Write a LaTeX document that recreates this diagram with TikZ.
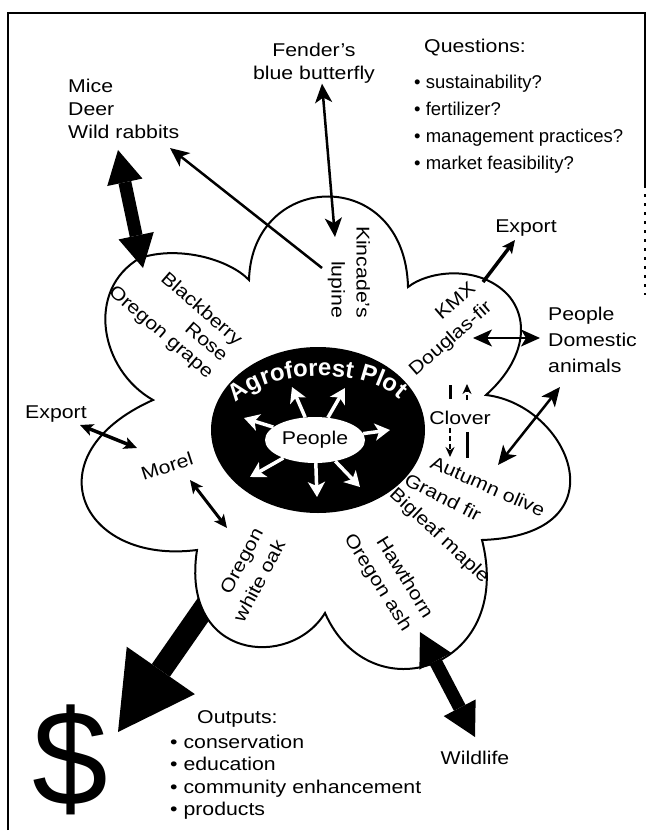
\documentclass[tikz,border=0pt]{standalone}
\usepackage{fontspec}
\setmainfont{Liberation Sans}[FakeStretch=1.15]
\newfontfamily\plainsf{Liberation Sans}
\usetikzlibrary{arrows.meta, shapes.geometric, decorations.text}
\newcommand{\plotfont}{\plainsf\fontsize{24}{24}\selectfont\bfseries}

\tikzset{
  lbl/.style={inner sep=0pt, font=\fontsize{18.5}{23}\selectfont},
  petal/.style={draw, line width=2pt, fill=white},
  frame/.style={line width=2.5pt},
  fatarrow/.style={line width=13pt, arrows={Triangle[length=33pt,width=36pt,line width=0pt]-Triangle[length=33pt,width=36pt,line width=0pt]}},
  cashflow/.style={line width=22pt, arrows={-Triangle[length=75pt,width=83pt,line width=0pt]}},
  linkboth/.style={line width=2.5pt, arrows={Stealth[length=19pt,width=17pt,inset=5pt]-Stealth[length=19pt,width=17pt,inset=5pt]}},
  linkone/.style={line width=2.5pt, arrows={-Stealth[length=19pt,width=17pt,inset=5pt]}},
  shortboth/.style={line width=3.5pt, arrows={Stealth[length=13pt,width=12pt,inset=3pt]-Stealth[length=13pt,width=12pt,inset=3pt]}},
  shortone/.style={line width=3.5pt, arrows={-Stealth[length=13pt,width=12pt,inset=3pt]}},
  spoke/.style={white, line width=3.5pt, arrows={-Stealth[length=15pt,width=17pt,inset=4pt]}},
  cloverbar/.style={line width=3pt},
  cloverdash/.style={line width=2.5pt, dash pattern=on 5pt off 3pt, arrows={-Stealth[length=10pt,width=9pt]}},
}

\begin{document}
\begin{tikzpicture}[x=1pt, y=-1pt]
\useasboundingbox (0,0) rectangle (647,837);

% frame
\draw[frame] (8,830) -- (8,13) -- (645,13) -- (645,185);
\draw[line width=1.2pt, dash pattern=on 3pt off 6pt] (645,185) -- (645,295);

% money arrow, tucked under the petals
\coordinate (oakTail) at (214,594);
\coordinate (dollarTip) at (118,732);
\draw[cashflow] (oakTail) -- (dollarTip);

% plot outline
\draw[petal] (249,280)
  .. controls (252,170) and (405,165) .. (408,287)
  .. controls (430,270) and (480,265) .. (508,295)
  .. controls (530,320) and (525,360) .. (486,395)
  .. controls (570,405) and (625,535) .. (482,540)
  .. controls (515,670) and (370,715) .. (325,613)
  .. controls (290,670) and (180,660) .. (197,550)
  .. controls (80,565) and (30,455) .. (153,400)
  .. controls (100,370) and (85,290) .. (140,258)
  .. controls (180,245) and (230,260) .. cycle;

% centre
\node[ellipse, fill=black, minimum width=214pt, minimum height=166pt, inner sep=0pt] (plot) at (318,430) {};
\node[ellipse, fill=white, minimum width=100pt, minimum height=46pt, inner sep=0pt, font=\fontsize{18.5}{23}\selectfont] (people) at (315,440) {People};
\path[decorate, decoration={text along path, text={|\plotfont|Agroforest Plot}, text align=center, text color=white}]
  (226,420) .. controls (244,362) and (394,362) .. (410,416);
\foreach \tx/\ty [count=\k] in {244/418, 292/387, 345/388, 390/430, 360/487, 317/497, 250/477} {
  \coordinate (spoke\k) at (\tx,\ty);
  \draw[spoke] (people) -- (spoke\k);
}

% labels
\node[lbl, anchor=north west, align=left] (mice) at (68,79) {Mice\\Deer\\Wild rabbits};
\node[lbl, anchor=north, align=center] (fender) at (314,43) {Fender's\\blue butterfly};
\node[lbl, anchor=base west] (questions) at (424,53) {Questions:};
\node[lbl, anchor=north west, align=left, font=\plainsf\fontsize{18.5}{27}\selectfont] (qlist) at (414,75)
  {• sustainability?\\• fertilizer?\\• management practices?\\• market feasibility?};
\node[lbl, anchor=base] (exportR) at (526,232) {Export};
\node[lbl, anchor=north west, align=left, font=\fontsize{18.5}{26}\selectfont] (folk) at (548,307) {People\\Domestic\\animals};
\node[lbl, anchor=base west] (exportL) at (25,418) {Export};
\node[lbl, rotate=18] (morel) at (167,466) {Morel};
\node[lbl, rotate=-41, align=right, font=\fontsize{18.5}{22}\selectfont] (bramble) at (175,316) {Blackberry\\Rose\\Oregon grape};
\node[lbl, rotate=-90, align=right, font=\fontsize{18.5}{25}\selectfont] (kincade) at (349,272) {Kincade's\\lupine};
\node[lbl, rotate=41, align=right, font=\fontsize{18.5}{25}\selectfont] (kmx) at (443,330) {KMX\\Douglas-fir};
\node[lbl] (clover) at (460,418) {Clover};
\node[lbl, rotate=-24] (olive) at (488,486) {Autumn olive};
\node[lbl, rotate=-27] (grandfir) at (443,497) {Grand fir};
\node[lbl, rotate=-43] (maple) at (439,536) {Bigleaf maple};
\node[lbl, rotate=-58, align=right, font=\fontsize{18.5}{25}\selectfont] (hawthorn) at (388,576) {Hawthorn\\Oregon ash};
\node[lbl, rotate=62, align=right, font=\fontsize{18.5}{25}\selectfont] (oak) at (248,575) {Oregon\\white oak};
\node[lbl] (wildlife) at (475,758) {Wildlife};
\node[lbl, anchor=base west] (outputs) at (197,723) {Outputs:};
\node[lbl, anchor=north west, align=left, font=\fontsize{18.5}{22.5}\selectfont] (olist) at (170,734.5)
  {• conservation\\• education\\• community enhancement\\• products};
\node[inner sep=0pt, font=\plainsf\fontsize{136}{136}\selectfont] (dollar) at (70,760) {\$};

% arrow ends
\coordinate (miceTip) at (118,150);
\coordinate (miceFoot) at (143,268);
\coordinate (fenderFoot) at (335,237);
\coordinate (lupineTail) at (322,268);
\coordinate (rabbitTip) at (170,148);
\coordinate (kmxTail) at (483,282);
\coordinate (exportTip) at (515,240);
\coordinate (firTip) at (473,338);
\coordinate (animalTip) at (540,338);
\coordinate (oliveTip) at (498,465);
\coordinate (domesticTip) at (560,387);
\coordinate (exportLTip) at (80,425);
\coordinate (morelTipA) at (137,448);
\coordinate (morelTipB) at (190,480);
\coordinate (oakTip) at (227,528);
\coordinate (ashTip) at (420,632);
\coordinate (wildTip) at (475,737);

% connectors
\draw[fatarrow] (miceTip) -- (miceFoot);
\draw[fatarrow] (ashTip) -- (wildTip);
\draw[linkboth] ([xshift=8pt]fender.south) -- (fenderFoot);
\draw[linkone] (lupineTail) -- (rabbitTip);
\draw[shortone] (kmxTail) -- (exportTip);
\draw[linkboth, line width=2pt] (firTip) -- (animalTip);
\draw[linkboth] (oliveTip) -- (domesticTip);
\draw[shortboth] (exportLTip) -- (morelTipA);
\draw[shortboth, line width=3pt] (morelTipB) -- (oakTip);

% clover exchange
\draw[cloverbar] ([xshift=-10pt,yshift=26pt]clover.north) -- ([xshift=-10pt,yshift=12pt]clover.north);
\draw[cloverdash] ([xshift=-10pt,yshift=-3pt]clover.south) -- ([xshift=-10pt,yshift=-32pt]clover.south);
\draw[cloverdash] ([xshift=7pt,yshift=11pt]clover.north) -- ([xshift=7pt,yshift=27pt]clover.north);
\draw[cloverbar] ([xshift=7pt,yshift=-7pt]clover.south) -- ([xshift=7pt,yshift=-33pt]clover.south);
\end{tikzpicture}
\end{document}
